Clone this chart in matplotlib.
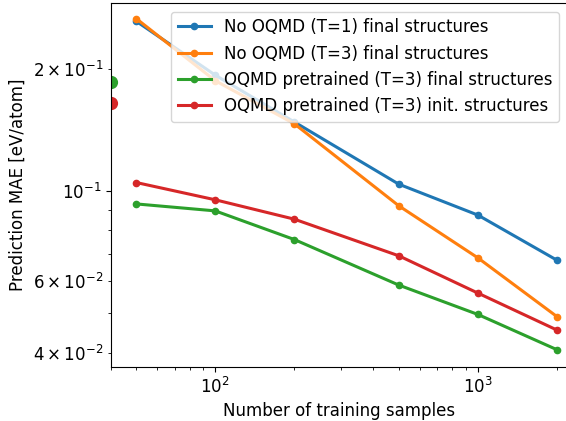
import numpy as np
import matplotlib
matplotlib.use('Agg')
import matplotlib.pyplot as plt

plt.rcParams['font.size'] = 12

n_samples = [50, 100, 200, 500, 1000, 2000]

mae_t1_final = [0.262, 0.193, 0.148, 0.104, 0.0873, 0.0676]
mae_t3_final = [0.266, 0.187, 0.1465, 0.092, 0.0685, 0.0491]
mae_oqmd_final = [0.093, 0.0894, 0.076, 0.0587, 0.0497, 0.0407]
mae_oqmd_init = [0.105, 0.0952, 0.0853, 0.0693, 0.0561, 0.0455]

# zero-shot OQMD model (no training samples), drawn at the left edge
oqmd_only_final = 0.186
oqmd_only_init = 0.165

labels = ['No OQMD (T=1) final structures',
          'No OQMD (T=3) final structures',
          'OQMD pretrained (T=3) final structures',
          'OQMD pretrained (T=3) init. structures']
colors = ['#1f77b4', '#ff7f0e', '#2ca02c', '#d62728']

fig = plt.figure(figsize=[5.66, 4.21], dpi=100)
ax = fig.add_axes([0.1956, 0.1283, 0.8076, 0.8639])

series = [mae_t1_final, mae_t3_final, mae_oqmd_final, mae_oqmd_init]
for vals, lab, col in zip(series, labels, colors):
    ax.plot(n_samples, vals, '-o', color=col, label=lab, lw=2.2, ms=4.5)

x_left = 40
ax.plot([x_left], [oqmd_only_final], 'o', color=colors[2], ms=8.5)
ax.plot([x_left], [oqmd_only_init], 'o', color=colors[3], ms=8.5)

ax.set_xscale('log')
ax.set_yscale('log')
ax.set_xlim(x_left, 2200)
ax.set_ylim(0.0369, 0.290)
ax.set_xlabel('Number of training samples')
ax.set_ylabel('Prediction MAE [eV/atom]')
ax.legend(loc='upper right')

fig.savefig('out.png', dpi=100)
